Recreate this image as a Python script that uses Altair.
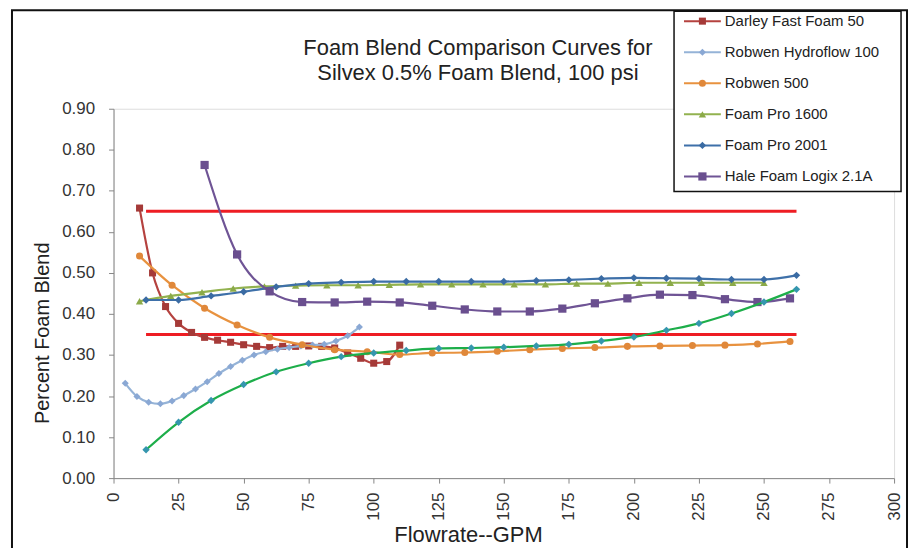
import altair as alt
import pandas as pd

FONT = "Liberation Sans"

# ---------------- data ----------------
darley_x = [10, 15, 20, 25, 30, 35, 40, 45, 50, 55, 60, 65, 70, 75, 80, 85, 90, 95, 100, 105, 110]
darley_y = [0.658, 0.500, 0.418, 0.377, 0.355, 0.343, 0.336, 0.331, 0.325, 0.321, 0.318,
            0.321, 0.321, 0.322, 0.321, 0.317, 0.305, 0.292, 0.280, 0.284, 0.324]

hydro_x = [4.5, 9, 13.5, 18, 22.5, 27, 31.5, 36, 40.5, 45, 49.5, 54, 58.5, 63, 67.5, 72,
           76.5, 81, 85.5, 90, 94.5]
hydro_y = [0.231, 0.199, 0.185, 0.181, 0.188, 0.201, 0.217, 0.235, 0.255, 0.272, 0.287,
           0.300, 0.308, 0.314, 0.318, 0.322, 0.324, 0.326, 0.334, 0.347, 0.368]

r500_x = [10, 22.5, 35, 47.5, 60, 72.5, 85, 97.5, 110, 122.5, 135, 147.5, 160, 172.5, 185,
          197.5, 210, 222.5, 235, 247.5, 260]
r500_y = [0.541, 0.470, 0.414, 0.373, 0.343, 0.325, 0.313, 0.308, 0.301, 0.305, 0.306,
          0.309, 0.313, 0.316, 0.318, 0.321, 0.322, 0.323, 0.324, 0.327, 0.333]

fp1600_x = [10, 22, 34, 46, 58, 70, 82, 94, 106, 118, 130, 142, 154, 166, 178, 190, 202,
            214, 226, 238, 250]
fp1600_y = [0.431, 0.444, 0.453, 0.462, 0.467, 0.469, 0.470, 0.470, 0.471, 0.472, 0.472,
            0.472, 0.472, 0.472, 0.474, 0.474, 0.476, 0.476, 0.476, 0.476, 0.476]

fp2001_x = [12.5, 25, 37.5, 50, 62.5, 75, 87.5, 100, 112.5, 125, 137.5, 150, 162.5, 175,
            187.5, 200, 212.5, 225, 237.5, 250, 262.5]
fp2001_y = [0.434, 0.434, 0.444, 0.454, 0.466, 0.474, 0.477, 0.479, 0.479, 0.479, 0.479,
            0.479, 0.481, 0.483, 0.486, 0.488, 0.487, 0.486, 0.484, 0.484, 0.494]

hale_x = [35, 47.5, 60, 72.5, 85, 97.5, 110, 122.5, 135, 147.5, 160, 172.5, 185, 197.5,
          210, 222.5, 235, 247.5, 260]
hale_y = [0.763, 0.545, 0.455, 0.429, 0.428, 0.430, 0.428, 0.420, 0.411, 0.406, 0.406,
          0.413, 0.426, 0.438, 0.447, 0.446, 0.436, 0.429, 0.438]

extra_x = [12.5, 25, 37.5, 50, 62.5, 75, 87.5, 100, 112.5, 125, 137.5, 150, 162.5, 175,
           187.5, 200, 212.5, 225, 237.5, 250, 262.5]
extra_y = [0.069, 0.136, 0.189, 0.228, 0.259, 0.280, 0.296, 0.305, 0.311, 0.316, 0.317,
           0.319, 0.322, 0.326, 0.334, 0.344, 0.360, 0.377, 0.401, 0.429, 0.460]

limit_levels = [0.65, 0.35]
limit_start = 12.5
limit_end = 262.5

x_ticks = [0, 25, 50, 75, 100, 125, 150, 175, 200, 225, 250, 275, 300]
y_ticks = [0.0, 0.1, 0.2, 0.3, 0.4, 0.5, 0.6, 0.7, 0.8, 0.9]

series_names = ["Darley Fast Foam 50", "Robwen Hydroflow 100", "Robwen 500",
                "Foam Pro 1600", "Foam Pro 2001", "Hale Foam Logix 2.1A"]

title_lines = ["Foam Blend Comparison Curves for", "Silvex 0.5% Foam Blend, 100 psi"]

# ---------------- styling ----------------
styles = [
    # line colour, marker colour, shape, size
    ("#B5423F", "#A53A38", "square", 50),
    ("#95B3D7", "#8AA8D4", "diamond", 50),
    ("#E8923F", "#E0883A", "circle", 50),
    ("#92B24F", "#8BAA48", "triangle-up", 55),
    ("#3E70A9", "#3A6BA3", "diamond", 55),
    ("#6F5495", "#6A4F8F", "square", 68),
]
extra_style = ("#1DAE4A", "#3596AE", "diamond", 55)

x_scale = alt.Scale(domain=[0, 300], nice=False, zero=False)
y_scale = alt.Scale(domain=[0, 0.9], nice=False)

x_axis = alt.Axis(values=x_ticks, labelAngle=270, title="Flowrate--GPM", grid=False,
                  tickSize=5, labelPadding=9, labelFontSize=17, titleFontSize=22,
                  titleFontWeight="normal", titleX=356, titleY=64, titleAlign="center",
                  titleBaseline="alphabetic", labelFlush=False, labelOverlap=False,
                  domainColor="#868686", tickColor="#868686", labelColor="#333333",
                  titleColor="#222222", labelFont=FONT, titleFont=FONT)
y_axis = alt.Axis(values=y_ticks, format=".2f", title="Percent Foam Blend", grid=False,
                  tickSize=5, labelPadding=14, labelFontSize=17, titleFontSize=20,
                  titleFontWeight="normal", titleAngle=270, titleX=-71, titleY=225,
                  titleAlign="center", titleBaseline="middle", labelFlush=False,
                  domainColor="#868686", tickColor="#868686", labelColor="#333333",
                  titleColor="#222222", labelFont=FONT, titleFont=FONT)

X = alt.X("x:Q", scale=x_scale, axis=x_axis)
Y = alt.Y("y:Q", scale=y_scale, axis=y_axis)


def series_layers(xs, ys, style):
    line_c, mark_c, shape, size = style
    df = pd.DataFrame({"x": xs, "y": ys})
    base = alt.Chart(df).encode(x=X, y=Y)
    line = base.mark_line(color=line_c, strokeWidth=2.2, interpolate="monotone")
    pts = base.mark_point(shape=shape, filled=True, size=size, color=mark_c, opacity=1)
    return [line, pts]


layers = []

# outer frame of the figure
layers.append(
    alt.Chart(pd.DataFrame({"a": [0]})).mark_rect(
        fill="white", fillOpacity=0, stroke="#111111", strokeWidth=2
    ).encode(x=alt.value(-102), x2=alt.value(797), y=alt.value(-99), y2=alt.value(460))
)

# chart title (two lines)
for i, line_txt in enumerate(title_lines):
    layers.append(
        alt.Chart(pd.DataFrame({"t": [line_txt]})).mark_text(
            align="center", baseline="alphabetic", fontSize=22, font=FONT, color="#222222"
        ).encode(x=alt.value(366), y=alt.value(-54 + i * 25), text="t:N")
    )

# red limit lines
limit_df = pd.DataFrame({
    "x": [limit_start] * len(limit_levels),
    "x2": [limit_end] * len(limit_levels),
    "y": limit_levels,
})
layers.append(
    alt.Chart(limit_df).mark_rule(color="#EE1D23", strokeWidth=3).encode(
        x=X, x2="x2:Q", y=Y
    )
)

all_series = [
    (darley_x, darley_y),
    (hydro_x, hydro_y),
    (r500_x, r500_y),
    (fp1600_x, fp1600_y),
    (fp2001_x, fp2001_y),
    (hale_x, hale_y),
]
for (xs, ys), st in zip(all_series, styles):
    layers += series_layers(xs, ys, st)
layers += series_layers(extra_x, extra_y, extra_style)

# legend box
layers.append(
    alt.Chart(pd.DataFrame({"a": [0]})).mark_rect(
        fill="white", stroke="#111111", strokeWidth=1.5
    ).encode(x=alt.value(563), x2=alt.value(791), y=alt.value(-98), y2=alt.value(83))
)
for i, (name, st) in enumerate(zip(series_names, styles)):
    line_c, mark_c, shape, size = st
    ypos = -88 + i * 31.2
    one = alt.Chart(pd.DataFrame({"name": [name]}))
    layers.append(one.mark_rule(color=line_c, strokeWidth=2).encode(
        x=alt.value(573), x2=alt.value(610), y=alt.value(ypos)))
    layers.append(one.mark_point(shape=shape, filled=True, size=size, color=mark_c,
                                 opacity=1).encode(x=alt.value(591.5), y=alt.value(ypos)))
    layers.append(one.mark_text(align="left", baseline="middle", fontSize=15, font=FONT,
                                color="#222222").encode(
        x=alt.value(614), y=alt.value(ypos), text="name:N"))

chart = alt.layer(*layers).properties(
    width=784,
    height=371,
    autosize=alt.AutoSizeParams(type="none"),
    padding={"left": 106, "top": 100, "right": 15, "bottom": 69},
).configure_view(stroke=None).configure(background="white")

chart.save("out.html", embed_options={"renderer": "svg", "actions": False})
